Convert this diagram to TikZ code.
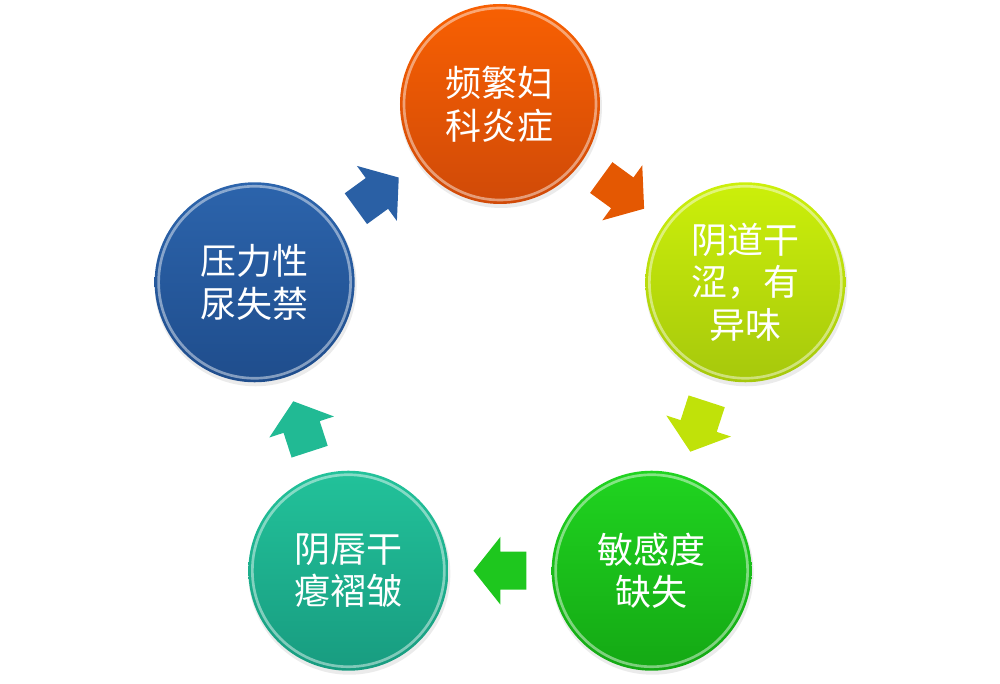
\documentclass[tikz,border=0pt]{standalone}
\usepackage{fontspec}
\newfontfamily\cjk{Noto Sans CJK SC}
\usetikzlibrary{calc}

\definecolor{cyOrangeT}{HTML}{F86002}
\definecolor{cyOrangeB}{HTML}{D04A08}
\definecolor{cyLimeT}{HTML}{CCF00A}
\definecolor{cyLimeB}{HTML}{A6C80C}
\definecolor{cyGreenT}{HTML}{20D420}
\definecolor{cyGreenB}{HTML}{14A814}
\definecolor{cyTealT}{HTML}{22C29A}
\definecolor{cyTealB}{HTML}{189C80}
\definecolor{cyBlueT}{HTML}{2C64AC}
\definecolor{cyBlueB}{HTML}{1F4D8C}

\begin{document}
\begin{tikzpicture}[
  x=.75pt, y=.75pt, text=white,
  font=\cjk\fontsize{27}{32}\selectfont,
  cy ball/.style={circle,minimum size=150pt,inner sep=0pt,align=center},
  cy rim/.style={draw=white,draw opacity=.45,line width=2},
  cy shadow/.style={fill=black,fill opacity=.08},
  cy arrow/.style={line join=miter}
]
% Picture frame (1000 x 684 px), origin at the cycle centre.
\useasboundingbox (-500,-322) rectangle (500,362);
\def\cR{258} % radius of the cycle

% Soft shadows under the five balls.
\foreach \ang in {90,18,-54,-126,162}
  \fill[cy shadow] ($(\ang:\cR)+(1,-3)$) circle[radius=101];

% The five balls, clockwise from the top.
\node[cy ball,top color=cyOrangeT,bottom color=cyOrangeB] (freq)
  at (90:\cR) {频繁妇\\科炎症};
\node[cy ball,top color=cyLimeT,bottom color=cyLimeB] (dry)
  at (18:\cR) {阴道干\\涩，有\\异味};
\node[cy ball,top color=cyGreenT,bottom color=cyGreenB] (sens)
  at (-54:\cR) {敏感度\\缺失};
\node[cy ball,top color=cyTealT,bottom color=cyTealB] (labia)
  at (-126:\cR) {阴唇干\\瘪褶皱};
\node[cy ball,top color=cyBlueT,bottom color=cyBlueB] (stress)
  at (162:\cR) {压力性\\尿失禁};

% Glossy rims.
\foreach \n in {freq,dry,sens,labia,stress}
  \draw[cy rim] (\n.center) circle[radius=96];

% Block arrows halfway between neighbouring balls.
\foreach \a/\b/\rot/\col in {freq/dry/-36/cyOrangeT!92!black,
    dry/sens/-108/cyLimeT!94!black,sens/labia/180/cyGreenT!94!black,
    labia/stress/108/cyTealT!96!black,stress/freq/36/cyBlueT!96!black}
  \fill[cy arrow,\col,shift={($(\a.center)!.5!(\b.center)$)},rotate=\rot]
    (-26.5,-19) -- (-.5,-19) -- (-.5,-34) -- (26.5,0)
    -- (-.5,34) -- (-.5,19) -- (-26.5,19) -- cycle;
\end{tikzpicture}
\end{document}
